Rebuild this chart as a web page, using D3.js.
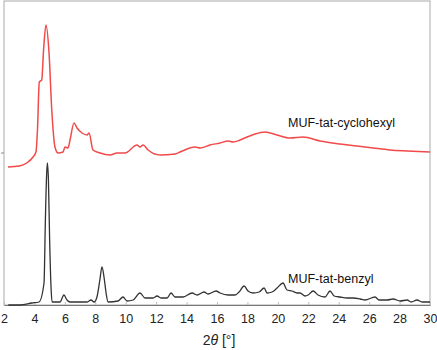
<!DOCTYPE html>
<html>
<head>
<meta charset="utf-8">
<script src="https://cdn.jsdelivr.net/npm/d3@7"></script>
<style>
  body { margin: 0; background: #fff; }
  text { font-family: "Liberation Sans", Arial, sans-serif; }
</style>
</head>
<body>
<div id="chart"></div>
<script>
// 2θ positions and intensities (a.u.)
const cyclohexylAngle = [2.26, 3.0, 3.49, 3.91, 4.1, 4.2, 4.32, 4.48, 4.6, 4.76, 4.96, 5.14, 5.35, 5.55, 5.88, 6.01, 6.21, 6.34, 6.6, 6.8, 7.13, 7.46, 7.59, 7.85, 8.31, 8.97, 9.43, 9.96, 10.74, 10.94, 11.14, 11.47, 12.26, 13.24, 13.57, 14.56, 14.89, 15.54, 16.2, 16.73, 17.06, 17.52, 17.98, 18.5, 19.16, 19.95, 20.8, 21.66, 22.78, 24.09, 25.21, 26.26, 27.38, 28.5, 30];
const cyclohexylIntensity = [138, 139, 142, 148, 153, 175, 223, 225, 255, 280, 252, 195, 158, 152, 153, 158, 157, 165, 182, 177, 172, 170, 172, 155, 152, 150, 152, 152, 160, 158, 160, 155, 150, 151, 153, 158, 157, 160, 162, 164, 163, 165, 168, 171, 173, 170, 167, 168, 164, 161, 159, 157, 155, 154, 153];

const benzylAngle = [2.28, 3.05, 3.84, 4.3, 4.63, 4.72, 4.8, 4.85, 4.92, 5.0, 5.1, 5.16, 5.68, 5.94, 6.14, 6.34, 7.46, 7.72, 7.92, 8.11, 8.3, 8.44, 8.6, 8.71, 8.84, 9.5, 9.82, 10.09, 10.48, 10.94, 11.27, 11.8, 12.06, 12.32, 12.72, 12.98, 13.24, 13.77, 14.36, 14.69, 15.15, 15.41, 15.94, 16.2, 16.73, 17.19, 17.45, 17.78, 18.04, 18.37, 18.77, 19.1, 19.29, 19.62, 19.95, 20.34, 20.6, 20.93, 21.26, 21.46, 21.79, 21.99, 22.32, 22.64, 23.1, 23.43, 23.7, 24.09, 24.55, 24.95, 25.41, 25.73, 26.39, 26.65, 27.18, 27.57, 28.04, 28.5, 28.76, 29.15, 29.48, 30];
const benzylIntensity = [0, 0, 2, 3, 22, 85, 130, 142, 125, 65, 15, 3, 3, 10, 5, 3, 3, 5, 3, 8, 25, 38, 25, 12, 3, 4, 8, 4, 5, 12, 7, 7, 9, 7, 7, 12, 8, 8, 12, 10, 13, 11, 14, 12, 10, 10, 13, 19, 14, 12, 13, 17, 12, 13, 17, 22, 15, 14, 12, 12, 9, 10, 14, 10, 8, 14, 9, 8, 7, 7, 6, 5, 8, 5, 5, 6, 4, 5, 3, 5, 3, 3];

const xTicks = [2, 4, 6, 8, 10, 12, 14, 16, 18, 20, 22, 24, 26, 28, 30];
const seriesNames = ["MUF-tat-cyclohexyl", "MUF-tat-benzyl"];

const W = 437, H = 350;
const margin = { top: 1, right: 7, bottom: 45, left: 4 };
const width = W - margin.left - margin.right;
const height = H - margin.top - margin.bottom;

const svg = d3.select("#chart").append("svg")
  .attr("width", W).attr("height", H)
  .append("g")
  .attr("transform", `translate(${margin.left},${margin.top})`);

const x = d3.scaleLinear().domain([2, 30]).range([0, width]);
const y = d3.scaleLinear().domain([0, 304]).range([height, 0]);

// frame
svg.append("rect")
  .attr("x", 0).attr("y", 0)
  .attr("width", width).attr("height", height)
  .attr("fill", "none")
  .attr("stroke", "#aaa")
  .attr("stroke-width", 1);

// small tick on the left side, between the two traces
svg.append("line")
  .attr("x1", -3).attr("x2", 0)
  .attr("y1", y(152)).attr("y2", y(152))
  .attr("stroke", "#888");

// x axis
const xAxis = d3.axisBottom(x).tickValues(xTicks).tickSizeInner(-3).tickSizeOuter(0).tickPadding(9);
const xg = svg.append("g").attr("transform", `translate(0,${height})`).call(xAxis);
xg.select(".domain").attr("stroke", "#777");
xg.selectAll(".tick line").attr("stroke", "#bbb");
xg.selectAll(".tick text")
  .attr("font-size", 12.5)
  .attr("fill", "#222")
  .attr("font-family", "'Liberation Sans', Arial, sans-serif");

// axis label
const lab = svg.append("text")
  .attr("x", width / 2 + 2)
  .attr("y", height + 40)
  .attr("text-anchor", "middle")
  .attr("font-size", 14)
  .attr("fill", "#222");
lab.append("tspan").text("2");
lab.append("tspan").attr("font-style", "italic").text("θ");
lab.append("tspan").text(" [°]");

const line = d3.line()
  .x(d => x(d[0]))
  .y(d => y(d[1]))
  .curve(d3.curveMonotoneX);

const cyc = cyclohexylAngle.map((a, i) => [a, cyclohexylIntensity[i]]);
const ben = benzylAngle.map((a, i) => [a, benzylIntensity[i]]);

svg.append("path")
  .datum(ben)
  .attr("d", line)
  .attr("fill", "none")
  .attr("stroke", "#333")
  .attr("stroke-width", 1.3);

svg.append("path")
  .datum(cyc)
  .attr("d", line)
  .attr("fill", "none")
  .attr("stroke", "#f04a4a")
  .attr("stroke-width", 1.5);

// series labels
svg.append("text")
  .attr("x", x(20.67)).attr("y", 126)
  .attr("font-size", 12.5).attr("fill", "#111")
  .text(seriesNames[0]);

svg.append("text")
  .attr("x", x(20.67)).attr("y", 282)
  .attr("font-size", 12.5).attr("fill", "#111")
  .text(seriesNames[1]);
</script>
</body>
</html>
